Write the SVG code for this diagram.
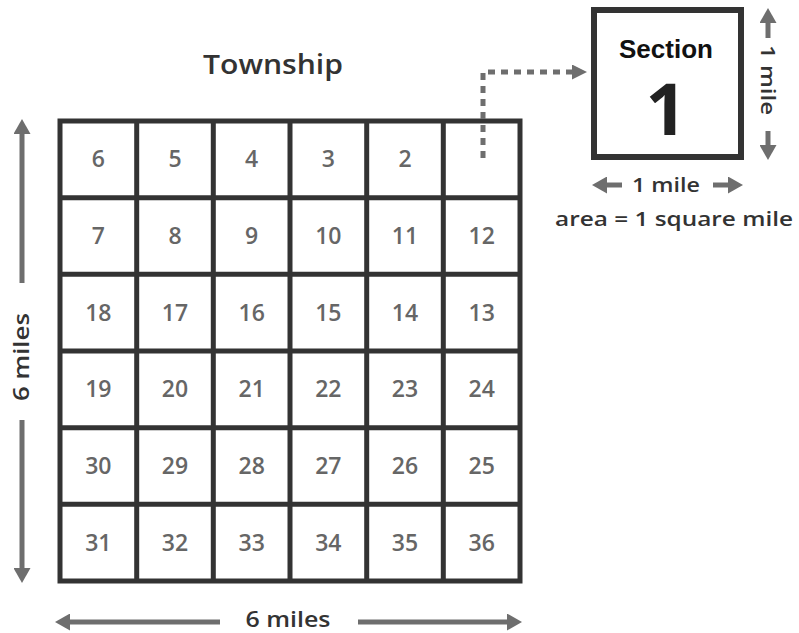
<svg xmlns="http://www.w3.org/2000/svg" width="799" height="633" viewBox="0 0 799 633">
<style>
text{font-family:"Open Sans","Liberation Sans",sans-serif;}
.num{font-size:23px;fill:#666;text-anchor:middle;font-weight:600;}
.lbl{font-size:21px;fill:#333;text-anchor:middle;font-weight:600;}
.grid{fill:none;stroke:#333;stroke-width:5;}
.arr{stroke:#6e6e6e;stroke-width:5;fill:none;marker-end:url(#ah);}
.dash{stroke:#6e6e6e;stroke-width:5;fill:none;stroke-dasharray:7 6;marker-end:url(#ahs);}
</style>
<defs>
<marker id="ah" markerUnits="userSpaceOnUse" markerWidth="15" markerHeight="17" refX="0" refY="8.5" orient="auto">
<path d="M0,0 L15,8.5 L0,17 z" fill="#6e6e6e"/>
</marker>
<marker id="ahs" markerUnits="userSpaceOnUse" markerWidth="15" markerHeight="15" refX="0" refY="7.5" orient="auto">
<path d="M0,0 L15,7.5 L0,15 z" fill="#6e6e6e"/>
</marker>
</defs>
<rect width="799" height="633" fill="#fff"/>
<g id="title"><text class="lbl" x="273" y="74" style="font-size:27px" textLength="140" lengthAdjust="spacingAndGlyphs">Township</text></g>
<g id="township">
<rect class="grid" x="60" y="121" width="460" height="460"/>
<path class="grid" d="M136.7,121V581M213.3,121V581M290,121V581M366.7,121V581M443.3,121V581M60,197.7H520M60,274.3H520M60,351H520M60,427.7H520M60,504.3H520"/>
</g>
<g id="numbers">
<text class="num" x="98.3" y="167">6</text><text class="num" x="175" y="167">5</text><text class="num" x="251.7" y="167">4</text><text class="num" x="328.3" y="167">3</text><text class="num" x="405" y="167">2</text>
<text class="num" x="98.3" y="244">7</text><text class="num" x="175" y="244">8</text><text class="num" x="251.7" y="244">9</text><text class="num" x="328.3" y="244">10</text><text class="num" x="405" y="244">11</text><text class="num" x="481.7" y="244">12</text>
<text class="num" x="98.3" y="321">18</text><text class="num" x="175" y="321">17</text><text class="num" x="251.7" y="321">16</text><text class="num" x="328.3" y="321">15</text><text class="num" x="405" y="321">14</text><text class="num" x="481.7" y="321">13</text>
<text class="num" x="98.3" y="397">19</text><text class="num" x="175" y="397">20</text><text class="num" x="251.7" y="397">21</text><text class="num" x="328.3" y="397">22</text><text class="num" x="405" y="397">23</text><text class="num" x="481.7" y="397">24</text>
<text class="num" x="98.3" y="474">30</text><text class="num" x="175" y="474">29</text><text class="num" x="251.7" y="474">28</text><text class="num" x="328.3" y="474">27</text><text class="num" x="405" y="474">26</text><text class="num" x="481.7" y="474">25</text>
<text class="num" x="98.3" y="551">31</text><text class="num" x="175" y="551">32</text><text class="num" x="251.7" y="551">33</text><text class="num" x="328.3" y="551">34</text><text class="num" x="405" y="551">35</text><text class="num" x="481.7" y="551">36</text>
</g>
<g id="section">
<rect x="594" y="10" width="147" height="147" fill="#fff" stroke="#333" stroke-width="6"/>
<text x="666" y="58" text-anchor="middle" style="font-family:'Liberation Sans',Arial,sans-serif;font-weight:bold;font-size:26px" fill="#111">Section</text>
<text x="666" y="135" text-anchor="middle" style="font-size:72px;font-weight:700" fill="#222">1</text>
</g>
<g id="connectors">
<path class="dash" d="M483,158V72H572"/>
<line class="arr" x1="22" y1="283" x2="22" y2="134"/>
<line class="arr" x1="22" y1="420" x2="22" y2="568"/>
<line class="arr" x1="220" y1="622" x2="70" y2="622"/>
<line class="arr" x1="358" y1="622" x2="507" y2="622"/>
<line class="arr" x1="768" y1="38" x2="768" y2="23"/>
<line class="arr" x1="768" y1="131" x2="768" y2="145"/>
<line class="arr" x1="622" y1="185" x2="607" y2="185"/>
<line class="arr" x1="713" y1="185" x2="728" y2="185"/>
</g>
<g id="labels">
<text class="lbl" x="288" y="627" textLength="85" lengthAdjust="spacingAndGlyphs">6 miles</text>
<text class="lbl" transform="translate(22,357) rotate(-90)" y="7" textLength="88" lengthAdjust="spacingAndGlyphs">6 miles</text>
<text class="lbl" transform="translate(768,80) rotate(90)" y="7" style="font-size:20px" textLength="70" lengthAdjust="spacingAndGlyphs">1 mile</text>
<text class="lbl" x="666" y="192" style="font-size:20px" textLength="68" lengthAdjust="spacingAndGlyphs">1 mile</text>
<text class="lbl" x="674" y="226" style="font-size:20px" textLength="238" lengthAdjust="spacingAndGlyphs">area = 1 square mile</text>
</g>
</svg>
